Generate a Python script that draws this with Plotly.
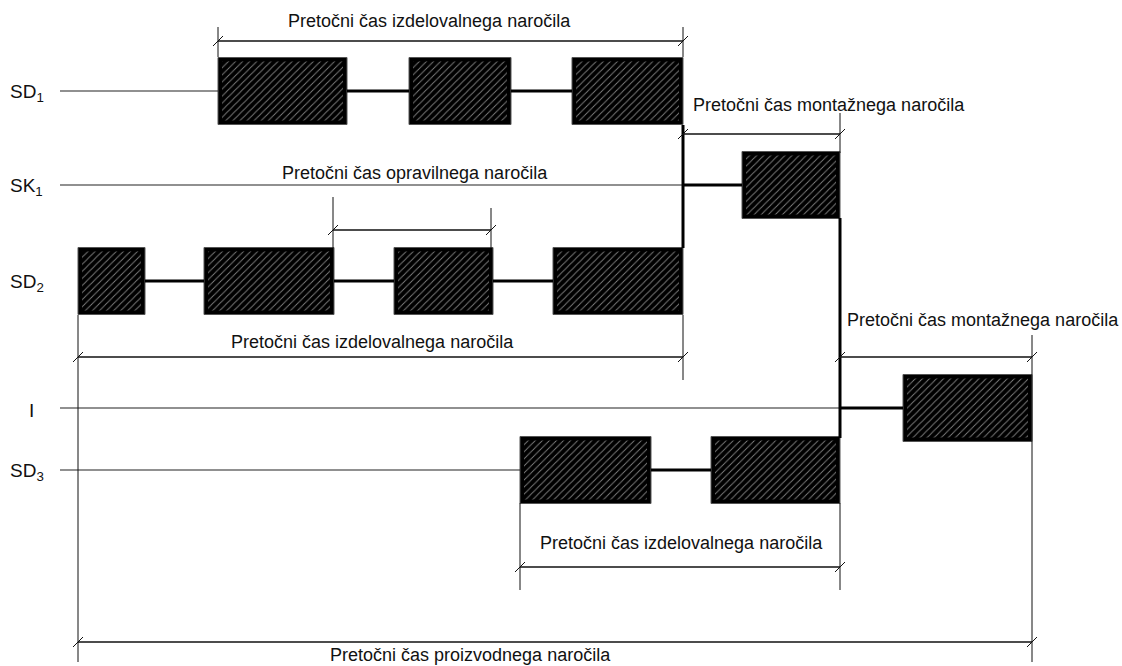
import plotly.graph_objects as go

# ---- diagram data (pixel-space coordinates of the schematic) ----
row_labels = ["SD<sub>1</sub>", "SK<sub>1</sub>", "SD<sub>2</sub>", "I", "SD<sub>3</sub>"]
row_label_x = [8, 8, 8, 27, 8]
row_y = [91, 185, 281, 408, 470]
row_line_start = [60, 60, None, 60, 60]
row_line_end = [218, 683, None, 840, 520]

box_rows = [0, 0, 0, 1, 2, 2, 2, 2, 3, 4, 4]
box_start = [218, 409, 572, 742, 78, 204, 394, 553, 903, 520, 711]
box_end = [347, 511, 683, 840, 145, 334, 493, 683, 1032, 651, 840]
box_half = 33.5

# junction links (thick) : (x0, x1, row)
link_x0 = [683, 840]
link_x1 = [742, 903]
link_row = [1, 3]
# thick verticals: (x, y0, y1)
vert_x = [683, 840]
vert_y0 = [125, 218]
vert_y1 = [248, 438]

# dimension lines
dim_x0 = [218, 683, 333, 78, 840, 520, 78]
dim_x1 = [683, 840, 491, 683, 1032, 840, 1032]
dim_y = [41, 134, 230, 357, 357, 567, 642]

# extension lines
ext_x = [218, 683, 840, 333, 491, 683, 78, 1032, 520, 840]
ext_y0 = [27, 27, 113, 197, 208, 315, 315, 335, 503, 503]
ext_y1 = [57, 57, 153, 248, 248, 380, 662, 662, 590, 590]

# text labels
texts = ["Pretočni čas izdelovalnega naročila",
         "Pretočni čas montažnega naročila",
         "Pretočni čas opravilnega naročila",
         "Pretočni čas izdelovalnega naročila",
         "Pretočni čas montažnega naročila",
         "Pretočni čas izdelovalnega naročila",
         "Pretočni čas proizvodnega naročila"]
text_x = [429, 829, 415, 372, 983, 681, 470]
text_y = [21, 105, 173, 342, 320, 543, 655]

FONT = "Liberation Sans, Arial, sans-serif"

fig = go.Figure()
shapes = []

def line(x0, y0, x1, y1, w, color="#111"):
    shapes.append(dict(type="line", xref="x", yref="y", x0=x0, y0=y0, x1=x1, y1=y1,
                       line=dict(color=color, width=w), layer="above"))

# thin row lines
for s, e, y in zip(row_line_start, row_line_end, row_y):
    if s is not None:
        line(s, y, e, y, 1.2, "#222")

# thick connectors between boxes within a row
for r in range(len(row_y)):
    idx = [i for i, rr in enumerate(box_rows) if rr == r]
    idx.sort(key=lambda i: box_start[i])
    for a, b in zip(idx[:-1], idx[1:]):
        line(box_end[a], row_y[r], box_start[b], row_y[r], 3, "#000")

for x0, x1, r in zip(link_x0, link_x1, link_row):
    line(x0, row_y[r], x1, row_y[r], 3, "#000")
for x, y0, y1 in zip(vert_x, vert_y0, vert_y1):
    line(x, y0, x, y1, 3, "#000")

# dimension lines + slash ticks
for x0, x1, y in zip(dim_x0, dim_x1, dim_y):
    line(x0, y, x1, y, 1.3, "#111")
    for x in (x0, x1):
        line(x - 5, y + 5, x + 5, y - 5, 1, "#111")

# extension lines
for x, y0, y1 in zip(ext_x, ext_y0, ext_y1):
    line(x, y0, x, y1, 1, "#111")

# boxes: black frame + inner hatched area
for r, s, e in zip(box_rows, box_start, box_end):
    y = row_y[r]
    shapes.append(dict(type="rect", xref="x", yref="y", x0=s, x1=e,
                       y0=y - box_half, y1=y + box_half,
                       fillcolor="#000", line=dict(color="#555", width=1), layer="below"))
    ins = 4
    xs = [s + ins, e - ins, e - ins, s + ins, s + ins]
    ys = [y - box_half + ins, y - box_half + ins, y + box_half - ins, y + box_half - ins, y - box_half + ins]
    fig.add_trace(go.Scatter(x=xs, y=ys, mode="lines", fill="toself",
                             fillcolor="#000",
                             fillpattern=dict(shape="/", bgcolor="#000", fgcolor="#ffffff",
                                              size=5, solidity=0.18),
                             line=dict(width=0, color="#000"),
                             hoverinfo="skip", showlegend=False))

annotations = []
for lab, lx, y in zip(row_labels, row_label_x, row_y):
    annotations.append(dict(x=lx, y=y + 2, xref="x", yref="y", text=lab, showarrow=False,
                            xanchor="left", yanchor="middle",
                            font=dict(family=FONT, size=19, color="#111")))
for t, x, y in zip(texts, text_x, text_y):
    annotations.append(dict(x=x, y=y, xref="x", yref="y", text=t, showarrow=False,
                            xanchor="center", yanchor="middle",
                            font=dict(family=FONT, size=18, color="#111")))

fig.update_layout(
    width=1122, height=666,
    margin=dict(l=0, r=0, t=0, b=0),
    paper_bgcolor="white", plot_bgcolor="white",
    xaxis=dict(range=[0, 1122], visible=False, fixedrange=True),
    yaxis=dict(range=[666, 0], visible=False, fixedrange=True),
    shapes=shapes, annotations=annotations, showlegend=False,
)
fig.write_html("out.html", config={"displayModeBar": False},
               post_script="document.body.style.margin='0';document.body.style.overflow='hidden';")
